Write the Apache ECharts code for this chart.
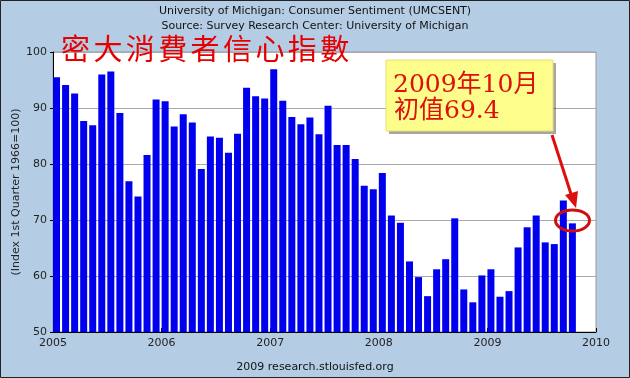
<!DOCTYPE html>
<html>
<head>
    <meta charset="utf-8">
    <title>UMCSENT</title>
    <script src="https://cdn.jsdelivr.net/npm/echarts@6/dist/echarts.min.js"></script>
    <style>
        html, body { margin: 0; padding: 0; }
        #main { width: 630px; height: 378px; }
    </style>
</head>
<body>
<div id="main"></div>
<script type="text/javascript">
    // monthly values, Jan 2005 .. Oct 2009
    var values2005 = [95.5, 94.1, 92.6, 87.7, 86.9, 96.0, 96.5, 89.1, 76.9, 74.2, 81.6, 91.5];
    var values2006 = [91.2, 86.7, 88.9, 87.4, 79.1, 84.9, 84.7, 82.0, 85.4, 93.6, 92.1, 91.7];
    var values2007 = [96.9, 91.3, 88.4, 87.1, 88.3, 85.3, 90.4, 83.4, 83.4, 80.9, 76.1, 75.5];
    var values2008 = [78.4, 70.8, 69.5, 62.6, 59.8, 56.4, 61.2, 63.0, 70.3, 57.6, 55.3, 60.1];
    var values2009 = [61.2, 56.3, 57.3, 65.1, 68.7, 70.8, 66.0, 65.7, 73.5, 69.4];
    var yearTicks = ['2005', '2006', '2007', '2008', '2009', '2010'];

    var titleCn = '密大消費者信心指數';
    var noteLine1 = '2009年10月';
    var noteLine2 = '初值69.4';

    var allValues = [].concat(values2005, values2006, values2007, values2008, values2009);
    var barData = [];
    for (var i = 0; i < allValues.length; i++) {
        // bar drawn just after the start of its month
        barData.push([i + 0.39, allValues[i]]);
    }

    var red = '#dd0f0f';
    var noteFont = '25px "DejaVu Serif", "Noto Sans CJK TC"';
    var graphics = [
        {type: 'rect', shape: {x: 0.5, y: 0.5, width: 629, height: 377}, style: {fill: 'none', stroke: '#222', lineWidth: 1}, z: 100},
        {type: 'text', x: 315, y: 11, style: {text: 'University of Michigan: Consumer Sentiment (UMCSENT)', font: '11px "DejaVu Sans"', fill: '#111', align: 'center', verticalAlign: 'middle'}},
        {type: 'text', x: 315, y: 26, style: {text: 'Source: Survey Research Center: University of Michigan', font: '11px "DejaVu Sans"', fill: '#111', align: 'center', verticalAlign: 'middle'}},
        {type: 'text', x: 315, y: 367, style: {text: '2009 research.stlouisfed.org', font: '11px "DejaVu Sans"', fill: '#111', align: 'center', verticalAlign: 'middle'}},
        {type: 'text', x: 16, y: 192, rotation: Math.PI / 2, style: {text: '(Index 1st Quarter 1966=100)', font: '11px "DejaVu Sans"', fill: '#222', align: 'center', verticalAlign: 'middle'}},
        // callout
        {type: 'rect', shape: {x: 389, y: 63, width: 167, height: 71}, style: {fill: 'rgba(0,0,0,0.35)'}, z: 20},
        {type: 'rect', shape: {x: 386, y: 60, width: 167, height: 71}, style: {fill: '#fdfd8c', stroke: '#e8e070', lineWidth: 1}, z: 21},
        {type: 'text', x: 393, y: 85, style: {text: noteLine1, font: noteFont, fill: red, verticalAlign: 'middle'}, z: 22},
        {type: 'text', x: 394, y: 111, style: {text: noteLine2, font: noteFont, fill: red, verticalAlign: 'middle'}, z: 22},
        // arrow
        {type: 'line', shape: {x1: 552, y1: 135, x2: 571, y2: 194}, style: {stroke: red, lineWidth: 3}, z: 22},
        {type: 'polygon', shape: {points: [[565, 195], [578, 191], [576, 208]]}, style: {fill: red}, z: 22},
        {type: 'ellipse', shape: {cx: 572.5, cy: 220.5, rx: 17, ry: 10.5}, style: {fill: 'none', stroke: '#cc1010', lineWidth: 3}, z: 22}
    ];
    for (var c = 0; c < titleCn.length; c++) {
        graphics.push({type: 'text', x: 61 + c * 32.4, y: 49, style: {text: titleCn[c], font: '29px "Noto Sans CJK TC"', fill: '#e60000', verticalAlign: 'middle'}, z: 30});
    }

    var myChart = echarts.init(document.getElementById('main'));
    var option = {
        backgroundColor: '#b5cde4',
        animation: false,
        grid: {left: 53, right: 34, top: 52, bottom: 46, show: true, backgroundColor: '#fff', borderColor: '#999', borderWidth: 1},
        xAxis: {
            type: 'value', min: 0, max: 60, interval: 12,
            axisLine: {show: true, lineStyle: {color: '#000', width: 1}},
            axisTick: {show: true, inside: true, length: 4, lineStyle: {color: '#000'}},
            splitLine: {show: false},
            axisLabel: {
                color: '#222', fontFamily: 'DejaVu Sans', fontSize: 11, margin: 6,
                formatter: function (v) { return yearTicks[Math.round(v / 12)]; }
            }
        },
        yAxis: {
            type: 'value', min: 50, max: 100, interval: 10,
            axisLine: {show: true, lineStyle: {color: '#000', width: 1}},
            axisTick: {show: true, length: 3, lineStyle: {color: '#000'}},
            splitLine: {show: true, lineStyle: {color: '#aaa', width: 1}},
            axisLabel: {color: '#222', fontFamily: 'DejaVu Sans', fontSize: 11, margin: 6}
        },
        series: [{
            type: 'bar',
            data: barData,
            barWidth: 7,
            itemStyle: {color: '#0000ee'},
            z: 5
        }],
        graphic: graphics
    };
    myChart.setOption(option);
</script>
</body>
</html>
